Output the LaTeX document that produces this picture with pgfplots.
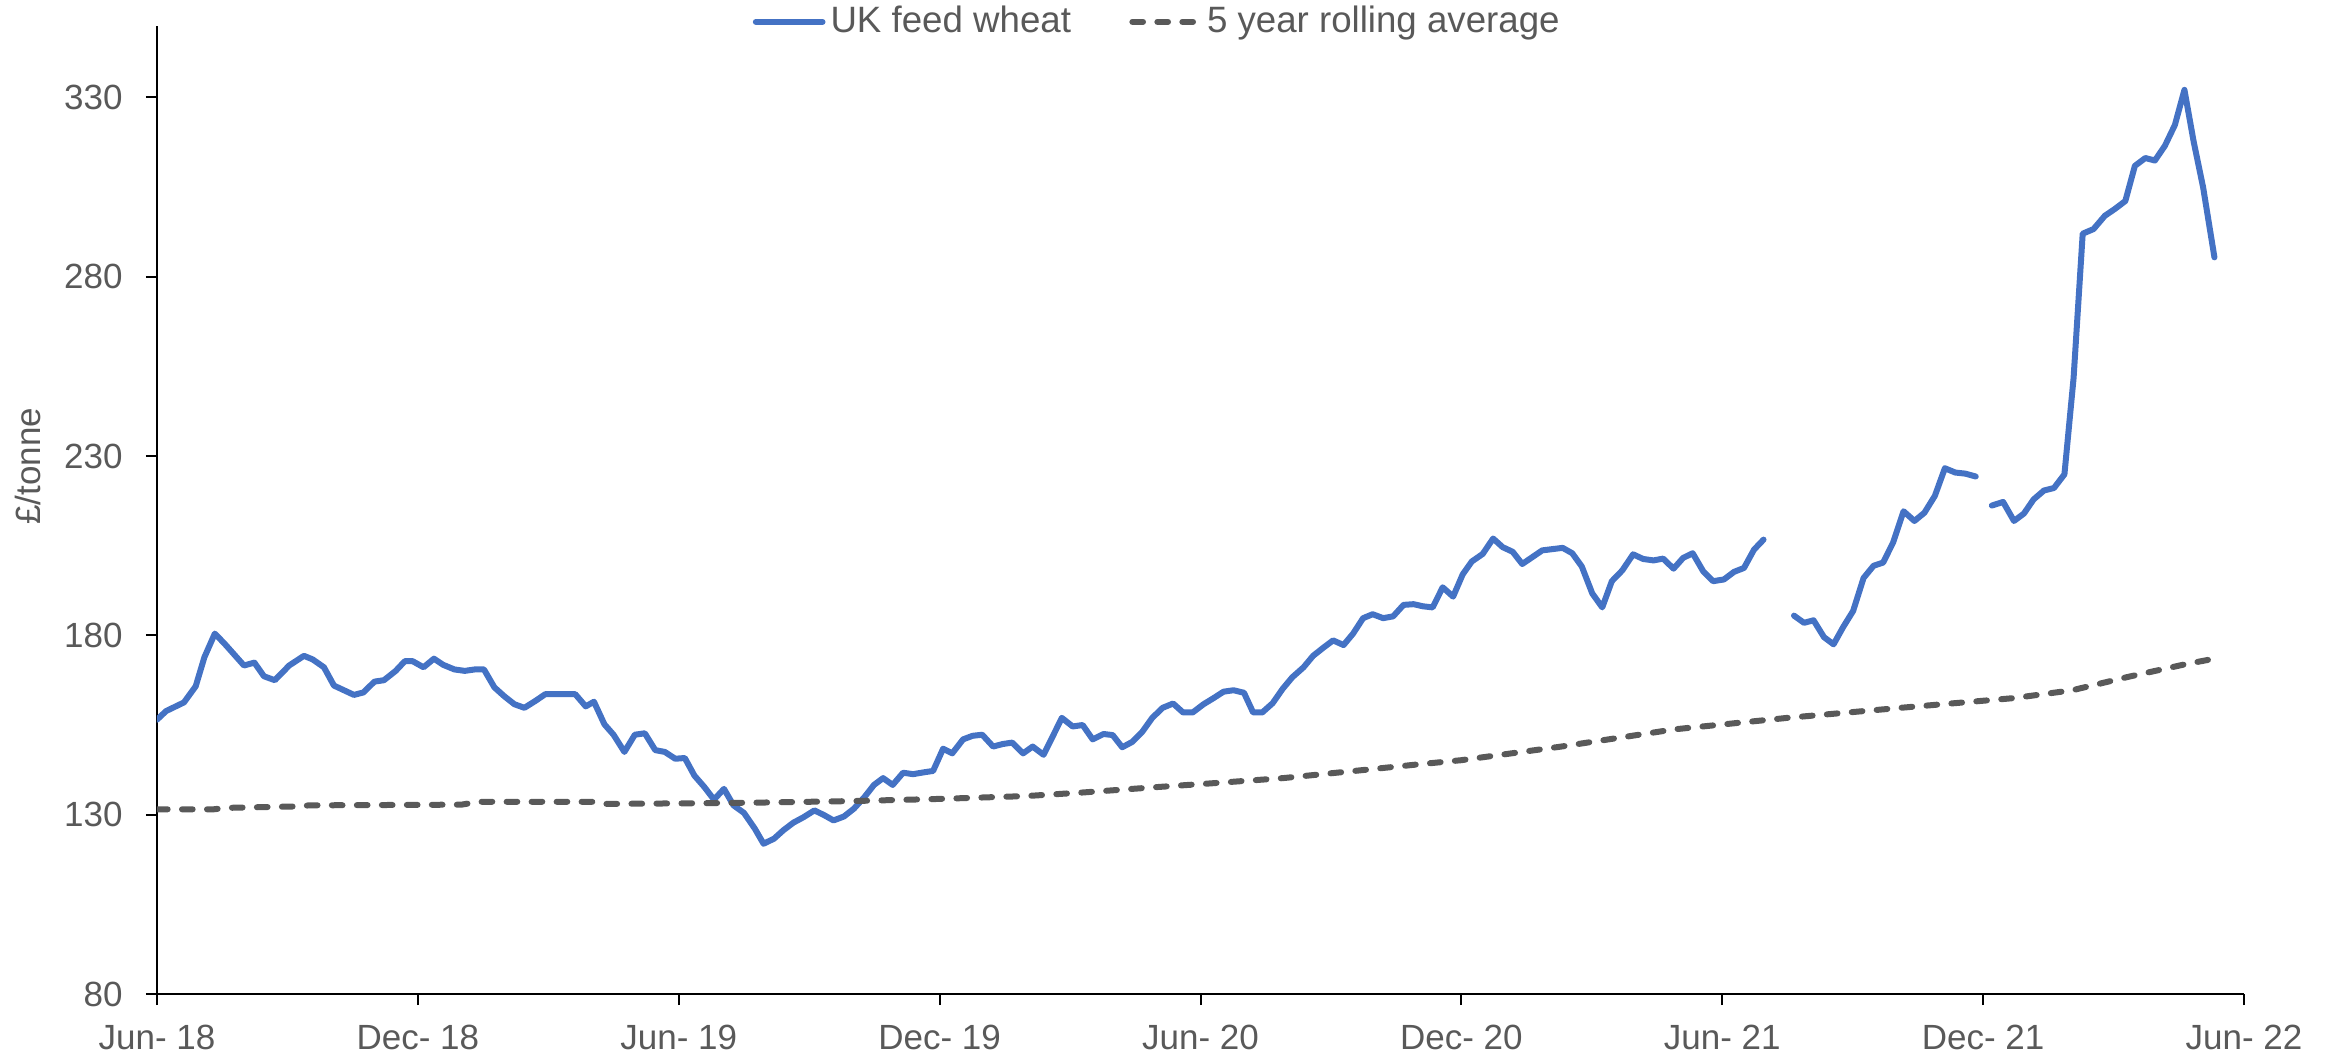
\documentclass[border=0pt]{standalone}
\usepackage{pgfplots}
\pgfplotsset{compat=1.18}
\usepackage{fontspec}
\setmainfont{Liberation Sans}
\definecolor{wheat}{HTML}{4472C4}
\definecolor{avg}{HTML}{595959}
\definecolor{txt}{HTML}{595959}
\begin{document}
\begin{tikzpicture}
\useasboundingbox (-47.1pt,-18.63pt) rectangle (654.3pt,298.2pt);
\begin{axis}[
  at={(0,0)}, anchor=south west,
  scale only axis, width=626.1pt, height=290.5pt,
  xmin=0, xmax=48, ymin=80, ymax=350,
  axis x line*=bottom, axis y line*=left,
  axis line style={black, line width=0.6pt},
  tick align=outside, major tick length=3.3pt,
  tick style={black, line width=0.6pt},
  xtick={0,6,...,48},
  xticklabels={Jun- 18,Dec- 18,Jun- 19,Dec- 19,Jun- 20,Dec- 20,Jun- 21,Dec- 21,Jun- 22},
  ytick={80,130,180,230,280,330},
  /pgf/number format/assume math mode=true,
  ticklabel style={font=\fontsize{10.5}{12}\selectfont, text=txt},
  yticklabel style={xshift=-3.5pt},
  xticklabel style={yshift=-2.5pt},
  ylabel={£/tonne},
  ylabel style={at={(axis description cs:-0.0618,0.545)}, anchor=center, font=\fontsize{10.5}{12}\selectfont, text=txt},
  unbounded coords=jump,
  legend columns=2,
  legend image code/.code={\draw[#1] (0pt,0pt) -- (20pt,0pt);},
  legend style={at={(0.48,1.004)}, anchor=center, draw=none, fill=none,
    font=\fontsize{11}{13}\selectfont, text=txt,
    nodes={inner sep=1.5pt},
    /tikz/every even column/.append style={column sep=16pt}},
]
\addplot[wheat, line width=1.8pt, line join=round, line cap=round] table {
x y
0 156.5
0.21 158.9
0.62 161.3
0.89 165.8
1.09 173.9
1.33 180.5
1.56 177.6
2.0 171.6
2.24 172.4
2.46 168.6
2.71 167.5
3.04 171.6
3.38 174.3
3.58 173.3
3.84 171.1
4.07 166.0
4.53 163.4
4.75 164.1
5.0 167.1
5.22 167.5
5.49 170.1
5.70 172.8
5.88 172.8
6.13 171.1
6.37 173.5
6.58 171.8
6.84 170.5
7.08 170.1
7.31 170.5
7.52 170.5
7.76 165.5
7.99 163.0
8.22 160.8
8.45 159.8
8.70 161.7
8.93 163.6
9.62 163.6
9.86 160.2
10.05 161.5
10.29 155.2
10.50 152.3
10.75 147.5
10.99 152.3
11.22 152.7
11.46 148.0
11.68 147.5
11.92 145.6
12.14 145.8
12.36 140.9
12.59 137.7
12.81 134.2
13.04 137.2
13.26 132.6
13.50 130.5
13.75 126.1
13.95 121.9
14.19 123.3
14.41 125.7
14.64 127.8
14.87 129.3
15.12 131.2
15.34 129.9
15.56 128.4
15.80 129.5
16.03 131.7
16.27 134.9
16.49 138.3
16.70 140.2
16.92 138.3
17.16 141.7
17.39 141.3
17.63 141.8
17.85 142.2
18.08 148.4
18.29 147.1
18.54 151.0
18.76 152.0
18.98 152.3
19.23 149.0
19.45 149.7
19.67 150.1
19.92 147.1
20.14 149.0
20.39 146.7
20.60 151.8
20.81 157.0
21.06 154.6
21.29 155.0
21.52 151.0
21.77 152.5
21.98 152.2
22.20 148.8
22.43 150.3
22.66 153.1
22.89 157.0
23.13 159.8
23.37 161.0
23.60 158.5
23.82 158.5
24.07 160.8
24.30 162.5
24.53 164.3
24.76 164.7
25.0 164.0
25.21 158.5
25.42 158.5
25.66 161.1
25.89 165.1
26.11 168.3
26.37 171.1
26.59 174.3
26.84 176.7
27.05 178.6
27.29 177.3
27.51 180.5
27.74 184.8
27.96 185.9
28.20 184.8
28.43 185.3
28.67 188.5
28.90 188.7
29.12 188.1
29.34 187.8
29.57 193.4
29.81 190.8
30.03 197.0
30.24 200.6
30.49 202.7
30.73 207.0
30.95 204.6
31.18 203.3
31.40 199.9
31.63 201.8
31.86 203.7
32.33 204.4
32.55 202.9
32.77 199.2
33.01 191.7
33.24 187.8
33.46 195.1
33.70 198.1
33.95 202.6
34.18 201.3
34.42 200.9
34.64 201.4
34.88 198.6
35.10 201.6
35.32 202.9
35.56 197.9
35.79 195.1
36.04 195.6
36.27 197.7
36.50 198.8
36.73 203.9
36.95 206.7
37.3 nan
37.65 185.5
37.88 183.5
38.10 184.2
38.34 179.5
38.56 177.5
38.78 182.3
39.01 186.8
39.25 196.0
39.48 199.4
39.70 200.3
39.93 205.9
40.17 214.6
40.42 211.9
40.65 214.2
40.89 218.9
41.12 226.6
41.36 225.4
41.59 225.1
41.83 224.3
42.0 nan
42.20 216.2
42.46 217.2
42.71 211.9
42.94 214.0
43.16 217.9
43.40 220.4
43.63 221.1
43.87 224.9
44.08 251.7
44.29 292.0
44.54 293.3
44.80 297.0
45.03 298.9
45.27 301.1
45.49 310.9
45.73 313.1
45.95 312.4
46.18 316.5
46.41 322.3
46.63 332.1
46.84 317.8
47.06 304.9
47.32 285.4
};
\addlegendentry{UK feed wheat}
\addplot[avg, line width=1.8pt, line cap=round, dash pattern=on 3.2pt off 4.3pt] table {
x y
0 131.5
1.3 131.5
1.6 131.9
3.2 132.3
3.5 132.6
7.0 132.8
7.4 133.6
10.0 133.6
10.3 133.0
12.5 133.2
14.0 133.4
16.0 133.8
18.0 134.4
20.0 135.2
21.3 136.2
23.0 137.7
24.2 138.7
25.9 140.2
27.7 142.4
28.9 143.9
30.0 145.2
32.3 149.0
34.9 153.8
37.5 157.0
40.1 159.8
42.7 162.5
44.05 164.7
45.36 168.5
46.67 172.0
47.32 173.5
};
\addlegendentry{5 year rolling average}
\end{axis}
\end{tikzpicture}
\end{document}
